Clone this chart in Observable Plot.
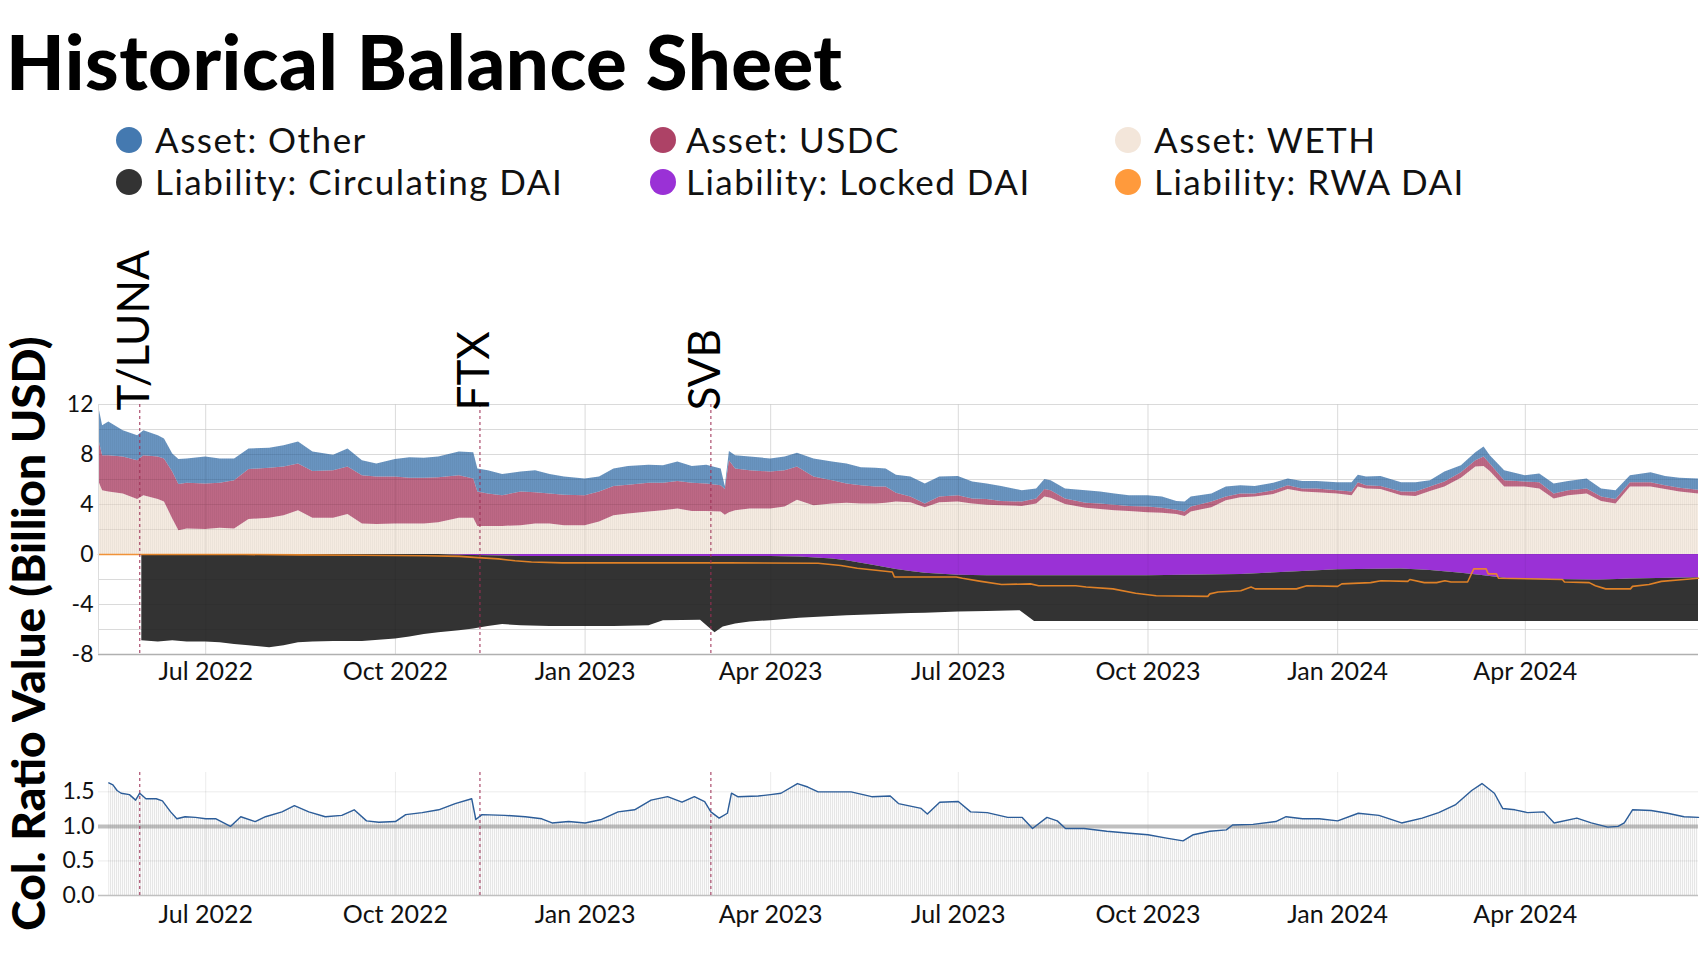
<!DOCTYPE html>
<html>
<head>
<meta charset="utf-8">
<script src="https://cdn.jsdelivr.net/npm/d3@7"></script>
<script src="https://cdn.jsdelivr.net/npm/@observablehq/plot@0.6"></script>
<style>
  body { margin: 0; background: #fff; font-family: Lato, "Noto Sans", sans-serif; }
  #page { position: relative; width: 1705px; height: 975px; overflow: hidden; background: #fff; }
  #title { position: absolute; left: 6px; top: 23px; font-size: 76px; line-height: 76px; font-weight: 900; color: #000; white-space: nowrap; letter-spacing: 0.5px; }
  .leg { position: absolute; font-size: 35px; line-height: 35px; color: #111; white-space: nowrap; letter-spacing: 1.5px; }
  .dot { position: absolute; width: 26px; height: 26px; border-radius: 50%; }
  #topChart, #botChart { position: absolute; left: 0; }
  #topChart { top: 230px; }
  #botChart { top: 722px; }
</style>
</head>
<body>
<div id="page">
  <div id="title">Historical Balance Sheet</div>
  <div id="legend"></div>
  <div id="topChart"></div>
  <div id="botChart"></div>
</div>
<script>
// ---------- DATA ----------
const seriesNames = ["Asset: Other", "Asset: USDC", "Asset: WETH",
  "Liability: Circulating DAI", "Liability: Locked DAI", "Liability: RWA DAI"];
const seriesColors = ["#4479b0", "#ad4266", "#f3e6da", "#333333", "#9a31d6", "#ff9a3c"];

const assetDates = ["2022-05-10","2022-05-12","2022-05-15","2022-05-22","2022-05-29","2022-06-01","2022-06-08","2022-06-11","2022-06-15","2022-06-18",
"2022-06-22","2022-07-01","2022-07-08","2022-07-15","2022-07-22","2022-08-01","2022-08-08","2022-08-15","2022-08-22","2022-09-01",
"2022-09-08","2022-09-15","2022-09-22","2022-10-01","2022-10-08","2022-10-15","2022-10-22","2022-11-01","2022-11-08","2022-11-10",
"2022-11-15","2022-11-22","2022-12-01","2022-12-08","2022-12-15","2022-12-22","2023-01-01","2023-01-08","2023-01-15","2023-01-22",
"2023-02-01","2023-02-08","2023-02-15","2023-02-22","2023-03-01","2023-03-08","2023-03-10","2023-03-12","2023-03-15","2023-03-22",
"2023-04-01","2023-04-08","2023-04-14","2023-04-22","2023-05-01","2023-05-08","2023-05-15","2023-05-22","2023-05-27","2023-06-01",
"2023-06-08","2023-06-15","2023-06-22","2023-07-01","2023-07-08","2023-07-15","2023-07-22","2023-08-01","2023-08-08","2023-08-12",
"2023-08-15","2023-08-22","2023-09-01","2023-09-08","2023-09-15","2023-09-22","2023-10-01","2023-10-08","2023-10-15","2023-10-19",
"2023-10-22","2023-11-01","2023-11-08","2023-11-15","2023-11-22","2023-12-01","2023-12-08","2023-12-15","2023-12-22","2024-01-01",
"2024-01-08","2024-01-11","2024-01-15","2024-01-22","2024-02-01","2024-02-08","2024-02-15","2024-02-22","2024-03-01","2024-03-08",
"2024-03-12","2024-03-15","2024-03-22","2024-04-01","2024-04-08","2024-04-15","2024-04-22","2024-05-01","2024-05-08","2024-05-15",
"2024-05-22","2024-06-01","2024-06-08","2024-06-15","2024-06-24"];

const wethValues = [5.9,5.1,5.0,4.85,4.4,4.7,4.4,4.2,2.85,1.9,
2.05,2.0,2.1,2.05,2.8,2.9,3.1,3.5,2.9,2.9,
3.2,2.45,2.4,2.45,2.45,2.45,2.55,2.9,2.9,2.25,
2.25,2.25,2.3,2.45,2.45,2.3,2.3,2.6,3.1,3.25,
3.4,3.5,3.65,3.45,3.45,3.4,3.15,3.35,3.5,3.65,
3.65,3.8,4.35,3.9,4.05,4.1,4.05,4.05,4.1,4.2,
4.15,3.75,4.15,4.2,4.05,3.95,3.9,3.85,4.05,4.6,
4.5,4.0,3.7,3.6,3.5,3.45,3.35,3.3,3.2,3.05,
3.4,3.75,4.3,4.55,4.6,4.8,5.2,5.0,4.95,4.85,
4.7,5.4,5.25,5.2,4.7,4.65,5.05,5.4,6.1,7.0,
7.05,6.65,5.4,5.4,5.25,4.45,4.7,4.85,4.25,4.05,
5.4,5.4,5.2,5.0,4.85];

const usdcValues = [3.4,2.8,2.9,2.95,3.1,3.2,3.4,3.45,3.75,3.7,
3.65,3.65,3.6,3.85,4.0,4.0,3.9,3.75,3.75,3.8,
3.8,3.85,3.8,3.75,3.65,3.65,3.6,3.4,3.15,2.75,
2.6,2.45,2.7,2.5,2.4,2.45,2.4,2.4,2.35,2.3,
2.3,2.2,2.2,2.25,2.2,2.1,2.05,4.15,3.35,3.05,
2.95,2.9,2.65,2.3,1.85,1.55,1.45,1.35,1.3,0.7,
0.45,0.3,0.45,0.5,0.4,0.45,0.35,0.35,0.4,0.6,
0.6,0.45,0.4,0.45,0.45,0.4,0.45,0.4,0.35,0.35,
0.4,0.45,0.3,0.3,0.25,0.3,0.3,0.25,0.3,0.25,
0.3,0.35,0.25,0.25,0.3,0.35,0.35,0.4,0.45,0.5,
0.75,0.6,0.5,0.4,0.5,0.4,0.4,0.4,0.35,0.35,
0.35,0.35,0.3,0.3,0.3];

const otherValues = [2.6,2.4,2.7,2.1,2.0,2.0,1.7,1.6,1.45,2.0,
1.95,2.15,1.95,1.75,1.65,1.6,1.7,1.75,1.55,1.25,
1.45,1.2,1.05,1.4,1.65,1.6,1.65,1.9,2.1,1.85,
1.85,1.7,1.6,1.75,1.55,1.45,1.35,1.2,1.4,1.5,
1.45,1.4,1.55,1.35,1.5,1.35,0.25,0.75,1.05,1.1,
1.05,1.1,1.1,1.45,1.5,1.6,1.45,1.5,1.45,1.45,
1.6,1.6,1.6,1.55,1.35,1.25,1.2,0.9,0.8,0.8,
0.8,0.8,1.0,0.95,0.9,0.85,0.9,0.9,0.7,0.8,
0.8,0.65,0.8,0.65,0.6,0.6,0.55,0.6,0.6,0.65,
0.75,0.6,0.7,0.8,0.75,0.75,0.5,0.8,0.55,0.65,
0.8,0.65,0.8,0.5,0.7,0.8,0.75,0.8,0.65,0.7,
0.55,0.8,0.75,0.8,0.9];

const liabDates = ["2022-05-31","2022-06-08","2022-06-15","2022-06-22","2022-07-01","2022-07-08","2022-07-15","2022-07-22","2022-08-01","2022-08-08",
"2022-08-15","2022-08-22","2022-09-01","2022-09-15","2022-10-01","2022-10-08","2022-10-15","2022-10-22","2022-11-01","2022-11-08",
"2022-11-15","2022-11-22","2022-12-01","2022-12-15","2023-01-01","2023-01-15","2023-02-01","2023-02-08","2023-02-26","2023-03-05",
"2023-03-09","2023-03-15","2023-03-22","2023-04-01","2023-04-15","2023-05-01","2023-05-08","2023-05-15","2023-05-22","2023-06-01",
"2023-06-08","2023-06-15","2023-07-01","2023-07-15","2023-07-31","2023-08-07","2023-10-01","2023-11-15","2023-12-15","2024-01-01",
"2024-02-01","2024-02-15","2024-03-01","2024-03-12","2024-03-25","2024-05-06","2024-05-22","2024-06-24"];

const lockedValues = [0,0,0,0,0,0,0,0,0,0,
0,0,0,0,0,0,0,0,-0.05,-0.08,
-0.1,-0.12,-0.15,-0.15,-0.15,-0.15,-0.15,-0.15,-0.15,-0.15,
-0.15,-0.15,-0.15,-0.15,-0.2,-0.35,-0.5,-0.7,-0.9,-1.2,
-1.35,-1.5,-1.65,-1.7,-1.7,-1.7,-1.7,-1.6,-1.35,-1.22,
-1.15,-1.28,-1.5,-1.7,-1.95,-2.05,-1.95,-1.85];

const circulatingValues = [-6.9,-7.0,-6.9,-7.0,-7.0,-7.05,-7.2,-7.3,-7.45,-7.3,
-7.05,-7.0,-6.95,-6.95,-6.75,-6.6,-6.4,-6.25,-6.05,-5.87,
-5.65,-5.48,-5.55,-5.6,-5.6,-5.6,-5.55,-5.15,-5.1,-6.1,
-5.65,-5.4,-5.25,-5.15,-4.9,-4.6,-4.4,-4.15,-3.92,-3.55,
-3.37,-3.2,-2.95,-2.85,-2.8,-3.65,-3.65,-3.75,-4.0,-4.13,
-4.2,-4.07,-3.85,-3.65,-3.4,-3.3,-3.4,-3.5];

const rwaDates = ["2022-05-10","2022-07-20","2022-08-15","2022-09-15","2022-10-15","2022-11-01","2022-11-10","2022-11-20","2022-11-28","2022-12-06",
"2022-12-21","2023-03-12","2023-04-24","2023-05-05","2023-05-13","2023-05-30","2023-05-31","2023-06-30","2023-07-03","2023-07-12",
"2023-07-22","2023-08-05","2023-08-09","2023-08-27","2023-09-01","2023-09-14","2023-09-25","2023-10-05","2023-10-30","2023-10-31",
"2023-11-04","2023-11-15","2023-11-20","2023-11-22","2023-12-12","2023-12-17","2024-01-01","2024-01-03","2024-01-17","2024-01-22",
"2024-02-04","2024-02-05","2024-02-12","2024-02-18","2024-02-22","2024-02-25","2024-03-04","2024-03-07","2024-03-13","2024-03-14",
"2024-03-18","2024-03-19","2024-04-19","2024-04-20","2024-05-02","2024-05-05","2024-05-10","2024-05-22","2024-05-23","2024-05-31",
"2024-06-06","2024-06-17","2024-06-24"];

const rwaValues = [0,0,-0.03,-0.06,-0.1,-0.15,-0.25,-0.35,-0.5,-0.6,
-0.67,-0.67,-0.7,-0.88,-1.1,-1.4,-1.8,-1.8,-1.9,-2.15,
-2.4,-2.35,-2.5,-2.5,-2.6,-2.75,-3.1,-3.3,-3.35,-3.15,
-3.0,-2.9,-2.6,-2.75,-2.75,-2.5,-2.55,-2.35,-2.25,-2.1,
-2.15,-2.0,-2.25,-2.25,-2.1,-2.2,-2.2,-1.15,-1.15,-1.55,
-1.55,-1.9,-2.0,-2.2,-2.25,-2.5,-2.75,-2.75,-2.55,-2.4,
-2.15,-2.0,-1.9];

const ratioDates = ["2022-05-15","2022-05-17","2022-05-19","2022-05-21","2022-05-25","2022-05-28","2022-05-30","2022-06-02","2022-06-07","2022-06-10",
"2022-06-14","2022-06-17","2022-06-21","2022-06-26","2022-07-01","2022-07-06","2022-07-13","2022-07-18","2022-07-25","2022-07-30",
"2022-08-07","2022-08-13","2022-08-20","2022-08-28","2022-09-05","2022-09-11","2022-09-17","2022-09-23","2022-10-01","2022-10-06",
"2022-10-14","2022-10-22","2022-10-30","2022-11-07","2022-11-09","2022-11-12","2022-11-23","2022-12-03","2022-12-11","2022-12-16",
"2022-12-24","2023-01-01","2023-01-09","2023-01-17","2023-01-25","2023-02-02","2023-02-10","2023-02-17","2023-02-23","2023-02-28",
"2023-03-03","2023-03-07","2023-03-11","2023-03-13","2023-03-16","2023-03-26","2023-04-01","2023-04-06","2023-04-14","2023-04-19",
"2023-04-24","2023-05-10","2023-05-20","2023-05-29","2023-06-02","2023-06-13","2023-06-16","2023-06-22","2023-07-01","2023-07-07",
"2023-07-15","2023-07-25","2023-08-01","2023-08-06","2023-08-13","2023-08-18","2023-08-22","2023-08-31","2023-09-11","2023-09-22",
"2023-10-01","2023-10-10","2023-10-18","2023-10-23","2023-10-31","2023-11-08","2023-11-11","2023-11-21","2023-12-02","2023-12-07",
"2023-12-15","2023-12-23","2024-01-01","2024-01-11","2024-01-21","2024-02-01","2024-02-11","2024-02-19","2024-02-27","2024-03-06",
"2024-03-11","2024-03-17","2024-03-21","2024-03-27","2024-04-02","2024-04-10","2024-04-15","2024-04-26","2024-05-03","2024-05-11",
"2024-05-16","2024-05-19","2024-05-23","2024-06-01","2024-06-09","2024-06-17","2024-06-24"];

const ratioValues = [1.63,1.6,1.52,1.48,1.46,1.38,1.48,1.4,1.4,1.37,
1.21,1.11,1.14,1.13,1.11,1.11,1.0,1.14,1.07,1.14,
1.21,1.3,1.21,1.14,1.16,1.24,1.08,1.06,1.07,1.17,
1.2,1.24,1.33,1.4,1.1,1.17,1.16,1.14,1.11,1.05,
1.07,1.05,1.1,1.21,1.24,1.38,1.43,1.35,1.43,1.36,
1.21,1.12,1.19,1.48,1.43,1.44,1.46,1.48,1.62,1.57,
1.5,1.5,1.43,1.44,1.33,1.26,1.18,1.35,1.36,1.21,
1.2,1.13,1.13,0.97,1.13,1.08,0.97,0.97,0.93,0.9,
0.88,0.83,0.79,0.88,0.93,0.95,1.02,1.03,1.07,1.14,
1.11,1.11,1.08,1.19,1.16,1.05,1.12,1.2,1.31,1.52,
1.62,1.48,1.26,1.24,1.2,1.21,1.05,1.12,1.05,0.99,
1.0,1.05,1.24,1.23,1.19,1.14,1.13];

const eventNames = ["T/LUNA", "FTX", "SVB"];
const eventDates = ["2022-05-30", "2022-11-11", "2023-03-03"];

const xTickDates = ["2022-07-01","2022-10-01","2023-01-01","2023-04-01","2023-07-01","2023-10-01","2024-01-01","2024-04-01"];
const xTickLabels = ["Jul 2022","Oct 2022","Jan 2023","Apr 2023","Jul 2023","Oct 2023","Jan 2024","Apr 2024"];
const yTicksTop = [-8, -4, 0, 4, 8, 12];
const yTicksBottom = [0, 0.5, 1, 1.5];
const yLabelTop = "Value (Billion USD)";
const yLabelBottom = "Col. Ratio";

// ---------- BUILD ----------
(function () {
const parse = d3.utcParse("%Y-%m-%d");
const xDomain = [parse("2022-05-10"), parse("2024-06-24")];
const xTicks = xTickDates.map(parse);
const tickLabel = new Map(xTicks.map((d, i) => [+d, xTickLabels[i]]));
const events = eventNames.map((n, i) => ({name: n, date: parse(eventDates[i])}));

const assetRows = [];
assetDates.forEach((d, i) => {
  const date = parse(d);
  assetRows.push({date, series: "Asset: WETH", value: wethValues[i]});
  assetRows.push({date, series: "Asset: USDC", value: usdcValues[i]});
  assetRows.push({date, series: "Asset: Other", value: otherValues[i]});
});
const liabRows = [];
liabDates.forEach((d, i) => {
  const date = parse(d);
  liabRows.push({date, series: "Liability: Locked DAI", value: lockedValues[i]});
  liabRows.push({date, series: "Liability: Circulating DAI", value: circulatingValues[i]});
});
const rwaRows = rwaDates.map((d, i) => ({date: parse(d), value: rwaValues[i]}));
const ratioRows = ratioDates.map((d, i) => ({date: parse(d), value: ratioValues[i]}));

// legend
const legend = document.getElementById("legend");
const legendCols = [[129, 155], [663, 686], [1128, 1154]];
seriesNames.forEach((name, i) => {
  const col = i % 3, row = Math.floor(i / 3);
  const cy = row === 0 ? 140 : 182;
  const dot = document.createElement("div");
  dot.className = "dot";
  dot.style.left = (legendCols[col][0] - 13) + "px";
  dot.style.top = (cy - 13) + "px";
  dot.style.background = seriesColors[i];
  legend.appendChild(dot);
  const t = document.createElement("div");
  t.className = "leg";
  t.style.left = legendCols[col][1] + "px";
  t.style.top = ((row === 0 ? 153 : 195) - 31.0) + "px";
  t.textContent = name;
  legend.appendChild(t);
});

const color = {domain: seriesNames, range: seriesColors};
const eventStroke = "#9e2f55";
const assetOrder = ["Asset: WETH", "Asset: USDC", "Asset: Other"];
const liabOrder = ["Liability: Locked DAI", "Liability: Circulating DAI"];

const topPlot = Plot.plot({
  width: 1705, height: 492,
  marginTop: 174, marginBottom: 68, marginLeft: 98, marginRight: 7,
  style: {fontFamily: "Lato, sans-serif", fontSize: "23px", color: "#111", background: "#fff", overflow: "visible"},
  x: {type: "utc", domain: xDomain},
  y: {domain: [-8, 12]},
  color,
  marks: [
    Plot.ruleY(d3.range(-8, 13, 2), {stroke: "#e6e6e6"}),
    Plot.ruleX(xTicks, {stroke: "#e6e6e6"}),
    Plot.areaY(assetRows, {x: "date", y: "value", fill: "series", order: assetOrder, fillOpacity: 0.8}),
    Plot.areaY(assetRows, {x: "date", y: "value", z: "series", order: assetOrder, fill: "url(#stripes)"}),
    Plot.areaY(liabRows, {x: "date", y: "value", fill: "series", order: liabOrder}),
    Plot.ruleY(d3.range(-8, 13, 2), {stroke: "#000", strokeOpacity: 0.05}),
    Plot.ruleX(xTicks, {stroke: "#000", strokeOpacity: 0.05}),
    Plot.line(rwaRows, {x: "date", y: "value", stroke: "#f28a26", strokeWidth: 1.6, strokeOpacity: 0.9}),
    Plot.ruleX(events, {x: "date", stroke: eventStroke, strokeDasharray: "3,3", strokeWidth: 1.2, strokeOpacity: 0.85}),
    Plot.ruleY([-8], {stroke: "#b0b0b0", strokeWidth: 1.5}),
    Plot.ruleX([xDomain[0]], {stroke: "#dddddd"}),
    Plot.text(events, {x: "date", frameAnchor: "top", text: "name", rotate: -90,
      textAnchor: "start", lineAnchor: "middle", fontSize: 44, dx: -5, dy: 6, fill: "#000"}),
    Plot.axisY(yTicksTop, {tickSize: 0, tickPadding: 5, fontSize: 23, label: null, tickFormat: d => String(d)}),
    Plot.axisX(xTicks, {tickSize: 0, tickPadding: 8, fontSize: 25, label: null, tickFormat: d => tickLabel.get(+d)}),
    Plot.text([yLabelTop], {text: d => d, frameAnchor: "left", textAnchor: "middle", lineAnchor: "middle",
      rotate: -90, dx: -68, fontSize: 46, fontWeight: 900, fill: "#000"})
  ]
});
d3.select(topPlot).insert("defs", ":first-child").html(
  '<pattern id="stripes" patternUnits="userSpaceOnUse" width="2" height="4">' +
  '<rect width="1" height="4" fill="#000" fill-opacity="0.035"/></pattern>');
document.getElementById("topChart").appendChild(topPlot);

const botPlot = Plot.plot({
  width: 1705, height: 253,
  marginTop: 50, marginBottom: 80, marginLeft: 98, marginRight: 7,
  style: {fontFamily: "Lato, sans-serif", fontSize: "23px", color: "#111", background: "#fff", overflow: "visible"},
  x: {type: "utc", domain: xDomain},
  y: {domain: [0, 1.78]},
  marks: [
    Plot.areaY(ratioRows, {x: "date", y: "value", fill: "url(#hatch)"}),
    Plot.ruleX(xTicks, {stroke: "#000", strokeOpacity: 0.08}),
    Plot.ruleY([0.5, 1.5], {stroke: "#000", strokeOpacity: 0.08}),
    Plot.ruleY([1], {stroke: "#8a8a8a", strokeOpacity: 0.55, strokeWidth: 4}),
    Plot.ruleY([0], {stroke: "#c0c0c0", strokeWidth: 1.5}),
    Plot.ruleX(events, {x: "date", stroke: eventStroke, strokeDasharray: "3,3", strokeWidth: 1.2, strokeOpacity: 0.85}),
    Plot.line(ratioRows, {x: "date", y: "value", stroke: "#2c5d99", strokeWidth: 1.4}),
    Plot.axisY(yTicksBottom, {tickSize: 0, tickPadding: 4, fontSize: 23, label: null, tickFormat: d => d.toFixed(1)}),
    Plot.axisX(xTicks, {tickSize: 0, tickPadding: 10, fontSize: 25, label: null, tickFormat: d => tickLabel.get(+d)}),
    Plot.text([yLabelBottom], {text: d => d, frameAnchor: "left", textAnchor: "middle", lineAnchor: "middle",
      rotate: -90, dx: -68, dy: -3, fontSize: 46, fontWeight: 900, fill: "#000"})
  ]
});
d3.select(botPlot).insert("defs", ":first-child").html(
  '<pattern id="hatch" patternUnits="userSpaceOnUse" width="2" height="4">' +
  '<rect width="2" height="4" fill="#fbfbfb"/><rect width="1" height="4" fill="#e6e6e6"/></pattern>');
document.getElementById("botChart").appendChild(botPlot);
})();
</script>
</body>
</html>
